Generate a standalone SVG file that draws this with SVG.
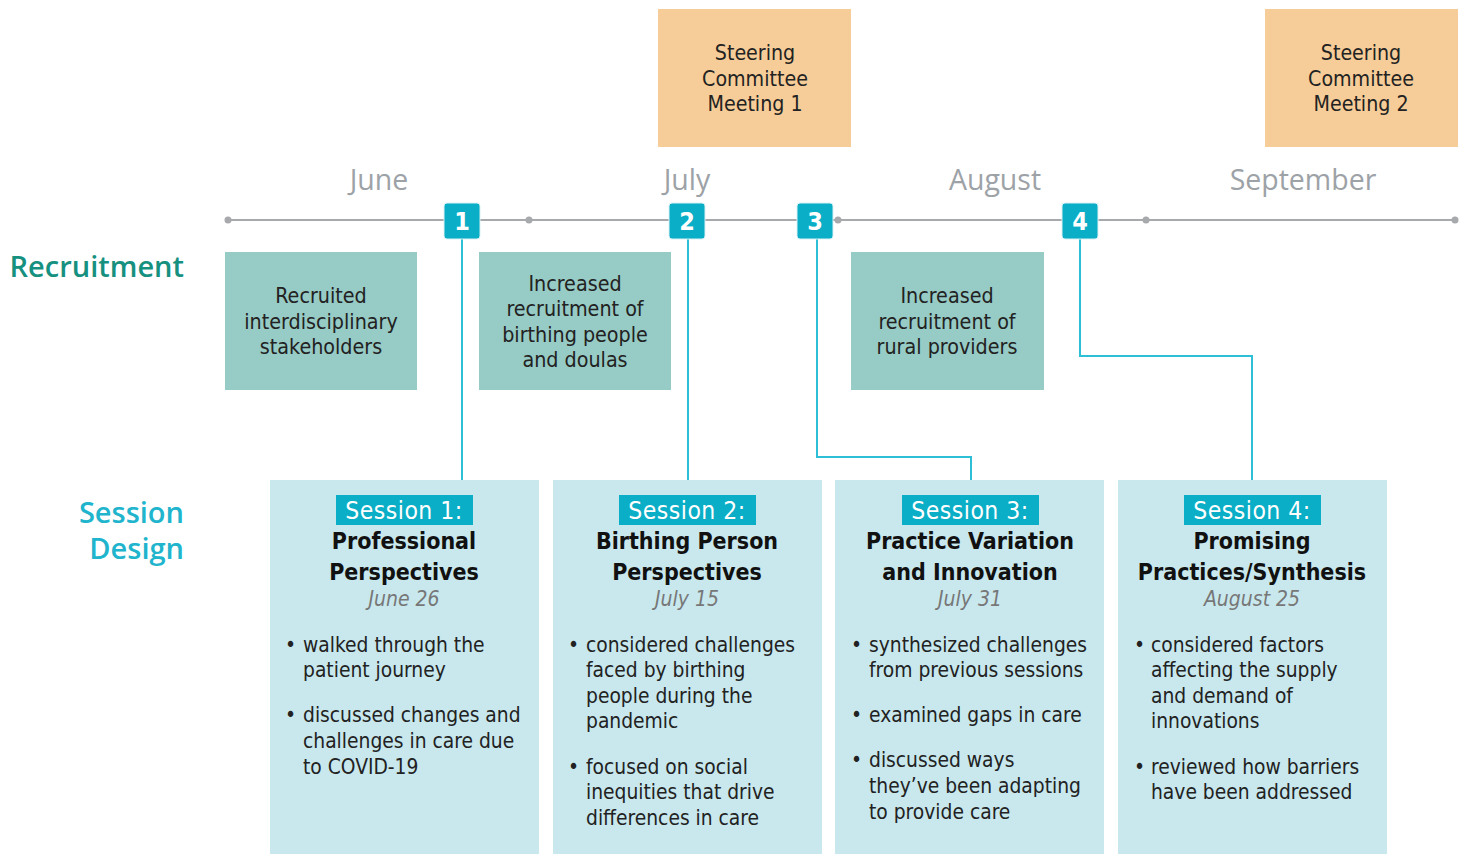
<svg xmlns="http://www.w3.org/2000/svg" width="1465" height="854" viewBox="0 0 1465 854">
  <style>
    text { font-family: "DejaVu Sans Condensed", "DejaVu Sans", sans-serif; }
    .month { font-size: 28.5px; fill: #9da2a7; text-anchor: middle; font-family: "Open Sans", "Noto Sans", sans-serif; }
    .lbl { font-family: "Open Sans", "Noto Sans", sans-serif; font-weight: 600; font-size: 29px; text-anchor: end; }
    .steer { fill: #f6cd98; }
    .steer-t { font-size: 21.2px; fill: #222; text-anchor: middle; }
    .rec { fill: #97cbc5; }
    .rec-t { font-size: 21.3px; fill: #222; text-anchor: middle; }
    .sess { fill: #c8e8ee; }
    .tag { fill: #0aaec6; }
    .tag-t { font-size: 24.5px; letter-spacing: 0.5px; fill: #fff; text-anchor: middle; }
    .title { font-size: 23px; font-weight: bold; fill: #111; text-anchor: middle; }
    .date { font-size: 21px; font-style: italic; fill: #777; text-anchor: middle; }
    .bul { font-size: 20.8px; fill: #222; }
    .mk { fill: #0aaec6; stroke: #d9f1f5; stroke-width: 1; }
    .mk-t { font-size: 25px; font-weight: bold; fill: #fff; text-anchor: middle; }
    .conn { fill: none; stroke: #2dbfd5; stroke-width: 2; }
    .axis { stroke: #a7a9ac; stroke-width: 2; }
    .dot { fill: #a7a9ac; }
  </style>

  <!-- row labels -->
  <g id="row-labels">
    <text class="lbl" x="184" y="277" fill="#16907f">Recruitment</text>
    <text class="lbl" x="184" y="523" fill="#20b4cd">Session</text>
    <text class="lbl" x="184" y="559" fill="#20b4cd">Design</text>
  </g>

  <!-- steering committee meetings -->
  <g id="steering-1">
    <rect class="steer" x="658" y="9" width="193" height="138"/>
    <text class="steer-t" x="755" y="60">Steering</text>
    <text class="steer-t" x="755" y="86">Committee</text>
    <text class="steer-t" x="755" y="111">Meeting 1</text>
  </g>
  <g id="steering-2">
    <rect class="steer" x="1265" y="9" width="193" height="138"/>
    <text class="steer-t" x="1361" y="60">Steering</text>
    <text class="steer-t" x="1361" y="86">Committee</text>
    <text class="steer-t" x="1361" y="111">Meeting 2</text>
  </g>

  <!-- timeline axis -->
  <g id="timeline">
    <text class="month" x="379" y="190">June</text>
    <text class="month" x="687" y="190">July</text>
    <text class="month" x="995" y="190">August</text>
    <text class="month" x="1303" y="190">September</text>
    <line class="axis" x1="228" y1="220" x2="1455" y2="220"/>
    <circle class="dot" cx="228" cy="220" r="3.5"/>
    <circle class="dot" cx="529" cy="220" r="3.5"/>
    <circle class="dot" cx="838" cy="220" r="3.5"/>
    <circle class="dot" cx="1146" cy="220" r="3.5"/>
    <circle class="dot" cx="1455" cy="220" r="3.5"/>
  </g>

  <!-- connectors from timeline markers to sessions -->
  <g id="connectors">
    <path class="conn" d="M462 238 V480"/>
    <path class="conn" d="M688 238 V480"/>
    <path class="conn" d="M817 238 V457 H971 V480"/>
    <path class="conn" d="M1080 238 V356 H1252 V480"/>
  </g>

  <!-- timeline markers -->
  <g id="marker-1">
    <rect class="mk" x="444" y="203" width="36" height="36" rx="3"/>
    <text class="mk-t" x="462" y="230">1</text>
  </g>
  <g id="marker-2">
    <rect class="mk" x="669" y="203" width="36" height="36" rx="3"/>
    <text class="mk-t" x="687" y="230">2</text>
  </g>
  <g id="marker-3">
    <rect class="mk" x="797" y="203" width="36" height="36" rx="3"/>
    <text class="mk-t" x="815" y="230">3</text>
  </g>
  <g id="marker-4">
    <rect class="mk" x="1062" y="203" width="36" height="36" rx="3"/>
    <text class="mk-t" x="1080" y="230">4</text>
  </g>

  <!-- recruitment boxes -->
  <g id="recruit-1">
    <rect class="rec" x="225" y="252" width="192" height="138"/>
    <text class="rec-t" x="321" y="303">Recruited</text>
    <text class="rec-t" x="321" y="329">interdisciplinary</text>
    <text class="rec-t" x="321" y="354">stakeholders</text>
  </g>
  <g id="recruit-2">
    <rect class="rec" x="479" y="252" width="192" height="138"/>
    <text class="rec-t" x="575" y="291">Increased</text>
    <text class="rec-t" x="575" y="316">recruitment of</text>
    <text class="rec-t" x="575" y="342">birthing people</text>
    <text class="rec-t" x="575" y="367">and doulas</text>
  </g>
  <g id="recruit-3">
    <rect class="rec" x="851" y="252" width="193" height="138"/>
    <text class="rec-t" x="947" y="303">Increased</text>
    <text class="rec-t" x="947" y="329">recruitment of</text>
    <text class="rec-t" x="947" y="354">rural providers</text>
  </g>

  <!-- sessions -->
  <g id="session-1">
    <rect class="sess" x="270" y="480" width="269" height="374"/>
    <rect class="tag" x="336" y="495" width="137" height="30"/>
    <text class="tag-t" x="404" y="519">Session 1:</text>
    <text class="title" x="404" y="549">Professional</text>
    <text class="title" x="404" y="580">Perspectives</text>
    <text class="date" x="404" y="606">June 26</text>
    <text class="bul" x="285" y="652">•</text>
    <text class="bul" x="303" y="652">walked through the</text>
    <text class="bul" x="303" y="677">patient journey</text>
    <text class="bul" x="285" y="722">•</text>
    <text class="bul" x="303" y="722">discussed changes and</text>
    <text class="bul" x="303" y="748">challenges in care due</text>
    <text class="bul" x="303" y="774">to COVID-19</text>
  </g>
  <g id="session-2">
    <rect class="sess" x="553" y="480" width="269" height="374"/>
    <rect class="tag" x="619" y="495" width="137" height="30"/>
    <text class="tag-t" x="687" y="519">Session 2:</text>
    <text class="title" x="687" y="549">Birthing Person</text>
    <text class="title" x="687" y="580">Perspectives</text>
    <text class="date" x="687" y="606">July 15</text>
    <text class="bul" x="568" y="652">•</text>
    <text class="bul" x="586" y="652">considered challenges</text>
    <text class="bul" x="586" y="677">faced by birthing</text>
    <text class="bul" x="586" y="703">people during the</text>
    <text class="bul" x="586" y="728">pandemic</text>
    <text class="bul" x="568" y="774">•</text>
    <text class="bul" x="586" y="774">focused on social</text>
    <text class="bul" x="586" y="799">inequities that drive</text>
    <text class="bul" x="586" y="825">differences in care</text>
  </g>
  <g id="session-3">
    <rect class="sess" x="835" y="480" width="269" height="374"/>
    <rect class="tag" x="902" y="495" width="137" height="30"/>
    <text class="tag-t" x="970" y="519">Session 3:</text>
    <text class="title" x="970" y="549">Practice Variation</text>
    <text class="title" x="970" y="580">and Innovation</text>
    <text class="date" x="970" y="606">July 31</text>
    <text class="bul" x="851" y="652">•</text>
    <text class="bul" x="869" y="652">synthesized challenges</text>
    <text class="bul" x="869" y="677">from previous sessions</text>
    <text class="bul" x="851" y="722">•</text>
    <text class="bul" x="869" y="722">examined gaps in care</text>
    <text class="bul" x="851" y="767">•</text>
    <text class="bul" x="869" y="767">discussed ways</text>
    <text class="bul" x="869" y="793">they’ve been adapting</text>
    <text class="bul" x="869" y="819">to provide care</text>
  </g>
  <g id="session-4">
    <rect class="sess" x="1118" y="480" width="269" height="374"/>
    <rect class="tag" x="1184" y="495" width="137" height="30"/>
    <text class="tag-t" x="1252" y="519">Session 4:</text>
    <text class="title" x="1252" y="549">Promising</text>
    <text class="title" x="1252" y="580">Practices/Synthesis</text>
    <text class="date" x="1252" y="606">August 25</text>
    <text class="bul" x="1134" y="652">•</text>
    <text class="bul" x="1151" y="652">considered factors</text>
    <text class="bul" x="1151" y="677">affecting the supply</text>
    <text class="bul" x="1151" y="703">and demand of</text>
    <text class="bul" x="1151" y="728">innovations</text>
    <text class="bul" x="1134" y="774">•</text>
    <text class="bul" x="1151" y="774">reviewed how barriers</text>
    <text class="bul" x="1151" y="799">have been addressed</text>
  </g>
</svg>
